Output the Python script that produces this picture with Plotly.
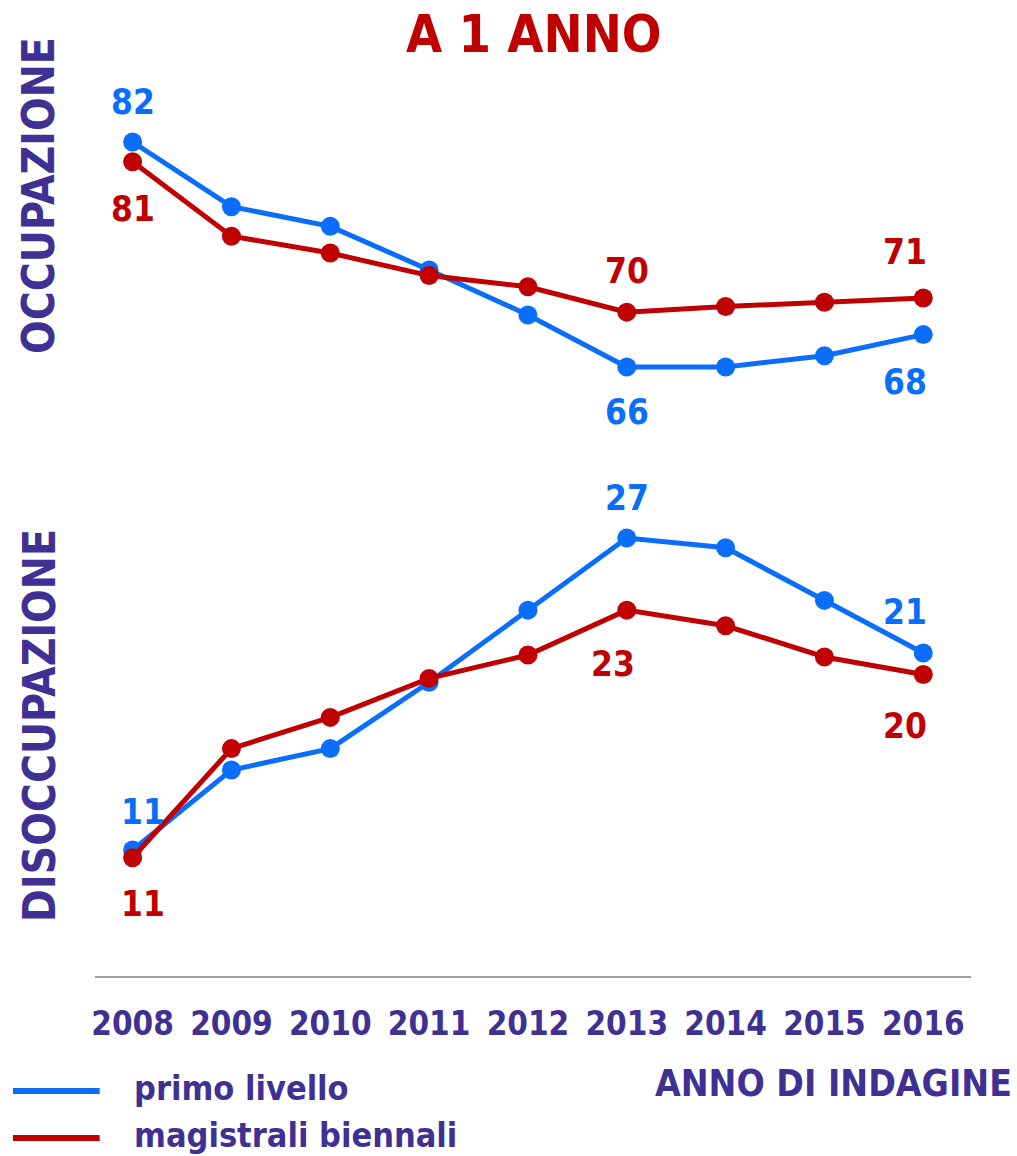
import plotly.graph_objects as go

years = [2008, 2009, 2010, 2011, 2012, 2013, 2014, 2015, 2016]
occ_primo = [82, 77.4, 76, 72.9, 69.7, 66, 66, 66.8, 68.3]
occ_magistrali = [80.6, 75.3, 74.1, 72.5, 71.7, 69.9, 70.3, 70.6, 70.9]
dis_primo = [11, 15.1, 16.2, 19.6, 23.3, 27, 26.5, 23.8, 21.1]
dis_magistrali = [10.6, 16.2, 17.8, 19.8, 21.0, 23.3, 22.5, 20.9, 20.0]

series_names = ["primo livello", "magistrali biennali"]
title_text = "A 1 ANNO"
ytitle_top = "OCCUPAZIONE"
ytitle_bottom = "DISOCCUPAZIONE"
xtitle = "ANNO DI INDAGINE"

BLUE = "#0A6EFA"
RED = "#C00000"
PURPLE = "#3F3193"
FONT = "DejaVu Sans Condensed, DejaVu Sans, sans-serif"

W, H = 1017, 1156
def fy(p):
    return 1 - p / H

fig = go.Figure()
for vals, col, ya in [(occ_primo, BLUE, "y"), (occ_magistrali, RED, "y"),
                      (dis_primo, BLUE, "y2"), (dis_magistrali, RED, "y2")]:
    fig.add_trace(go.Scatter(x=years, y=vals, xaxis="x", yaxis=ya, mode="lines+markers",
                             line=dict(color=col, width=5), marker=dict(color=col, size=19),
                             showlegend=False, hoverinfo="skip"))

# data labels: (series values, index, color, yref, yshift, xshift)
labels = [
    (occ_primo, 0, BLUE, "y", 40, 0),
    (occ_magistrali, 0, RED, "y", -47, 0),
    (occ_magistrali, 5, RED, "y", 41, 0),
    (occ_primo, 5, BLUE, "y", -45, 0),
    (occ_magistrali, 8, RED, "y", 46, -18),
    (occ_primo, 8, BLUE, "y", -47, -18),
    (dis_primo, 5, BLUE, "y2", 40, 0),
    (dis_magistrali, 5, RED, "y2", -54, -14),
    (dis_primo, 8, BLUE, "y2", 41, -18),
    (dis_magistrali, 8, RED, "y2", -52, -18),
    (dis_primo, 0, BLUE, "y2", 38, 10),
    (dis_magistrali, 0, RED, "y2", -46, 10),
]
anns = []
for vals, i, col, yr, ys, xs in labels:
    anns.append(dict(x=years[i], y=vals[i], xref="x", yref=yr, text=str(round(vals[i])),
                     showarrow=False, yshift=ys, xshift=xs, xanchor="center", yanchor="middle",
                     font=dict(family=FONT, size=35, color=col, weight="bold")))

def pann(x, y, text, size, color, **kw):
    d = dict(x=x / W, y=fy(y), xref="paper", yref="paper", text=text, showarrow=False,
             xanchor="center", yanchor="middle",
             font=dict(family=FONT, size=size, color=color, weight="bold"))
    d.update(kw)
    anns.append(d)

pann(533, 34, title_text, 52, RED)
pann(36, 195, ytitle_top, 44, PURPLE, textangle=-90)
pann(36, 725, ytitle_bottom, 44, PURPLE, textangle=-90)
pann(1014, 1083, xtitle, 37, PURPLE, xanchor="right")

# legend
shapes = []
for name, col, py in [(series_names[0], BLUE, 1091), (series_names[1], RED, 1138)]:
    shapes.append(dict(type="line", xref="paper", yref="paper", x0=10 / W, x1=97 / W,
                       y0=fy(py), y1=fy(py), line=dict(color=col, width=6)))
    pann(129, py - 3, name, 34, PURPLE, xanchor="left")

xr = [2008 - 38 / 99.125, 2016 + 48 / 99.125]
fig.update_layout(
    width=W, height=H, margin=dict(l=0, r=0, t=0, b=0),
    paper_bgcolor="white", plot_bgcolor="white",
    xaxis=dict(domain=[92 / W, 971 / W], range=xr, anchor="y2", tickvals=years,
               ticktext=[str(y) for y in years], showgrid=False, zeroline=False,
               showline=True, linecolor="#A0A0A0", linewidth=2, ticks="",
               ticklabelstandoff=17,
               tickfont=dict(family=FONT, size=33, color=PURPLE, weight="bold")),
    yaxis=dict(domain=[fy(400), fy(100)], range=[82 - (400 - 142) / 14.06, 82 + (142 - 100) / 14.06],
               anchor="x", visible=False),
    yaxis2=dict(domain=[fy(976), fy(480)], range=[27 - (976 - 538) / 19.5, 27 + (538 - 480) / 19.5],
                anchor="x", visible=False),
    annotations=anns, shapes=shapes,
)
fig.write_html("out.html", config={"displayModeBar": False},
               post_script="document.body.style.margin='0';document.body.style.overflow='hidden';")
